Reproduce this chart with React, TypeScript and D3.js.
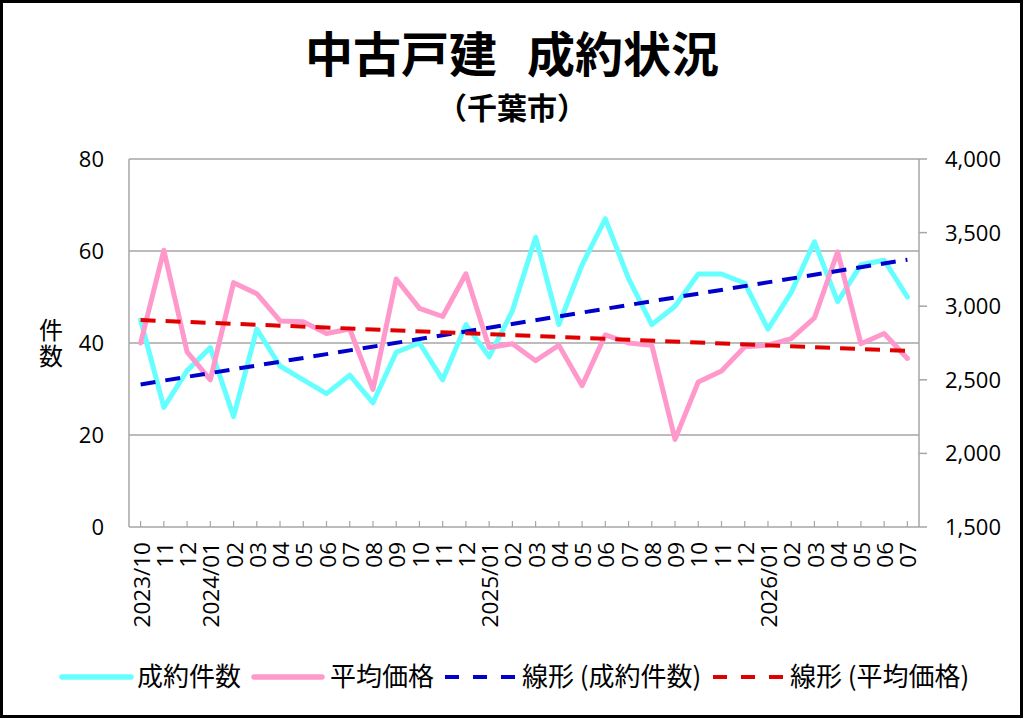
import React from "react";
import * as d3 from "d3";

const months = [
  "2023/10", "11", "12",
  "2024/01", "02", "03", "04", "05", "06", "07", "08", "09", "10", "11", "12",
  "2025/01", "02", "03", "04", "05", "06", "07", "08", "09", "10", "11", "12",
  "2026/01", "02", "03", "04", "05", "06", "07",
];

const counts = [
  45, 26, 34, 39, 24, 43, 35, 32, 29, 33, 27, 38, 40, 32, 44, 37, 47, 63, 44, 57,
  67, 54, 44, 48, 55, 55, 53, 43, 51, 62, 49, 57, 58, 50,
];

const prices = [
  2750, 3380, 2690, 2500, 3160, 3085, 2900, 2895, 2815, 2845, 2435, 3185, 2985, 2930,
  3220, 2720, 2745, 2630, 2735, 2460, 2805, 2750, 2735, 2095, 2485, 2560, 2725, 2735,
  2780, 2920, 3370, 2745, 2815, 2645,
];

const leftTicks = [0, 20, 40, 60, 80];
const rightTicks = [1500, 2000, 2500, 3000, 3500, 4000];

const legendItems = [
  { label: "成約件数", color: "#66FFFF", dash: "", x0: 62, x1: 131, tx: 137 },
  { label: "平均価格", color: "#FF99CC", dash: "", x0: 254, x1: 322, tx: 330 },
  { label: "線形 (成約件数)", color: "#0000CC", dash: "14 14", x0: 445, x1: 515, tx: 522 },
  { label: "線形 (平均価格)", color: "#E00000", dash: "14 14", x0: 713, x1: 783, tx: 790 },
];

function linearFit(vals: number[]) {
  const idx = vals.map((_, i) => i + 1);
  const mx = d3.mean(idx) as number;
  const my = d3.mean(vals) as number;
  const sxy = d3.sum(idx, (x, i) => (x - mx) * (vals[i] - my));
  const sxx = d3.sum(idx, (x) => (x - mx) * (x - mx));
  const b = sxy / sxx;
  const a = my - b * mx;
  return vals.map((_, i) => a + b * (i + 1));
}

export default function App() {
  const W = 1024, H = 719;
  const L = 129, R = 919, T = 159, B = 527;
  const x = d3.scaleBand<number>().domain(months.map((_, i) => i)).range([L, R]);
  const cx = (i: number) => (x(i) as number) + x.bandwidth() / 2;
  const yL = d3.scaleLinear().domain([0, 80]).range([B, T]);
  const yR = d3.scaleLinear().domain([1500, 4000]).range([B, T]);

  const lineL = d3.line<number>().x((_, i) => cx(i)).y((d) => yL(d));
  const lineR = d3.line<number>().x((_, i) => cx(i)).y((d) => yR(d));

  const trendC = linearFit(counts);
  const trendP = linearFit(prices);
  const trendLineL = d3.line<number>().x((_, i) => cx(i * (counts.length - 1))).y((d) => yL(d));
  const trendLineR = d3.line<number>().x((_, i) => cx(i * (prices.length - 1))).y((d) => yR(d));

  const numFont = "'Open Sans', 'Noto Sans', sans-serif";
  const jpFont = "'Noto Sans CJK JP', sans-serif";
  const grid = "#A6A6A6";

  return (
    <div style={{ position: "absolute", left: 0, top: 0 }}>
      <svg width={W} height={H} viewBox={`0 0 ${W} ${H}`} style={{ display: "block" }}>
        <rect x={0} y={0} width={W} height={H} fill="#fff" />
        <rect x={1.5} y={1.5} width={1020} height={715} fill="none" stroke="#000" strokeWidth={3} />

        <text y={72} fontFamily={jpFont} fontWeight={700} fontSize={48} fill="#000">
          <tspan x={401} textAnchor="middle">中古戸建</tspan>
          <tspan x={623} textAnchor="middle">成約状況</tspan>
        </text>
        <text x={512} y={119} textAnchor="middle" fontFamily={jpFont} fontWeight={700} fontSize={30} fill="#000">
          （千葉市）
        </text>

        {/* gridlines */}
        {leftTicks.slice(1).map((t) => (
          <line key={t} x1={L} x2={R} y1={yL(t)} y2={yL(t)} stroke={grid} strokeWidth={1.5} />
        ))}
        {/* axes */}
        <line x1={L} x2={L} y1={T} y2={B} stroke={grid} strokeWidth={1.5} />
        <line x1={R} x2={R} y1={T} y2={B} stroke={grid} strokeWidth={1.5} />
        <line x1={L} x2={R} y1={B} y2={B} stroke={grid} strokeWidth={1.5} />
        {months.map((_, i) => (
          <line key={i} x1={cx(i)} x2={cx(i)} y1={B} y2={B - 6} stroke={grid} strokeWidth={1.2} />
        ))}
        {rightTicks.map((t) => (
          <line key={t} x1={R} x2={R + 8} y1={yR(t)} y2={yR(t)} stroke={grid} strokeWidth={1.5} />
        ))}

        {/* left tick labels */}
        {leftTicks.map((t) => (
          <text key={t} x={104} y={yL(t)} dy="0.36em" textAnchor="end" fontFamily={numFont} fontSize={22} fill="#000">
            {t}
          </text>
        ))}
        {/* right tick labels */}
        {rightTicks.map((t) => (
          <text key={t} x={945} y={yR(t)} dy="0.36em" textAnchor="start" fontFamily={numFont} fontSize={22} fill="#000">
            {d3.format(",")(t)}
          </text>
        ))}
        {/* y axis title (vertical) */}
        <text
          x={51}
          y={318}
          fontFamily={jpFont}
          fontSize={24}
          fill="#000"
          style={{ writingMode: "vertical-rl", letterSpacing: "2px" }}
        >
          件数
        </text>

        {/* x labels */}
        {months.map((m, i) => (
          <text
            key={i}
            transform={`translate(${cx(i) + 1},542) rotate(-90)`}
            dy="0.36em"
            textAnchor="end"
            fontFamily={numFont}
            fontSize={22.5}
            fill="#000"
          >
            {m}
          </text>
        ))}

        {/* series */}
        <path d={lineL(counts) as string} fill="none" stroke="#66FFFF" strokeWidth={5} strokeLinejoin="round" strokeLinecap="round" />
        <path d={lineR(prices) as string} fill="none" stroke="#FF99CC" strokeWidth={5} strokeLinejoin="round" strokeLinecap="round" />
        <path
          d={trendLineL([trendC[0], trendC[trendC.length - 1]]) as string}
          fill="none" stroke="#0000CC" strokeWidth={4} strokeDasharray="15 10"
        />
        <path
          d={trendLineR([trendP[0], trendP[trendP.length - 1]]) as string}
          fill="none" stroke="#E00000" strokeWidth={4} strokeDasharray="15 10"
        />

        {/* legend */}
        {legendItems.map((it) => (
          <g key={it.label}>
            <line
              x1={it.x0} x2={it.x1} y1={677} y2={677}
              stroke={it.color}
              strokeWidth={it.dash ? 4 : 5.5}
              strokeLinecap={it.dash ? "butt" : "round"}
              strokeDasharray={it.dash || undefined}
            />
            <text x={it.tx} y={677} dy="0.36em" fontFamily={jpFont} fontSize={26} fill="#000">
              {it.label}
            </text>
          </g>
        ))}
      </svg>
    </div>
  );
}
